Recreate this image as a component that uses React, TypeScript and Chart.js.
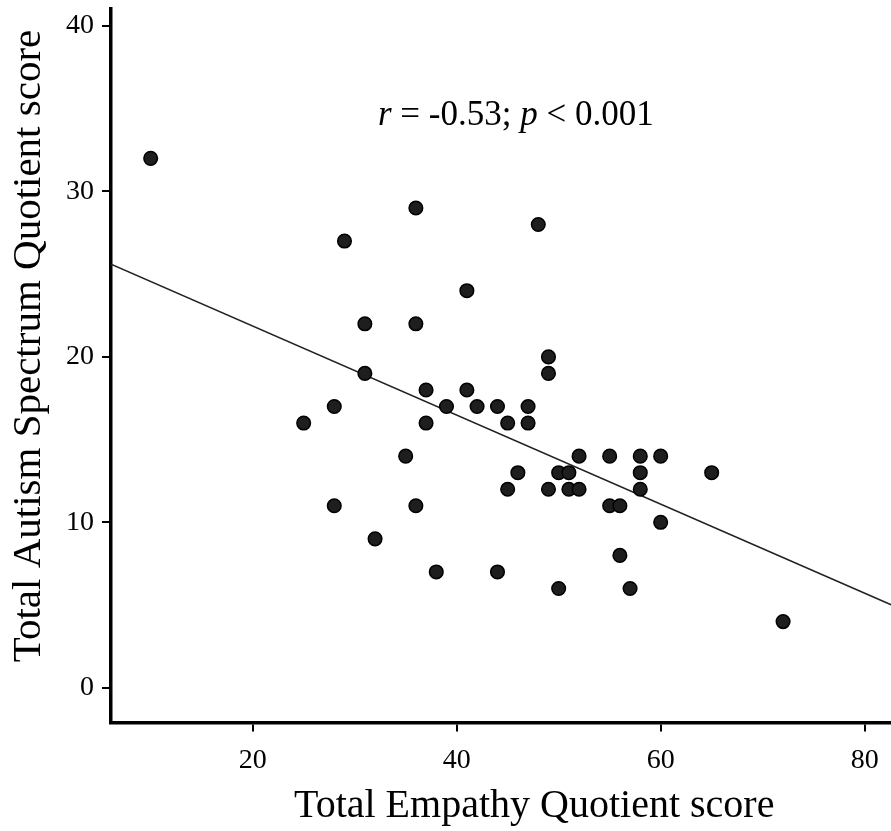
import React, { useEffect, useRef } from "react";
import { Chart, registerables } from "chart.js";

Chart.register(...registerables);

// Empathy Quotient (x) vs Autism Spectrum Quotient (y)
const empathyScores = [
  10, 25, 28, 28, 29, 31, 31, 32, 35, 36, 36, 36, 37, 37, 38, 39,
  41, 41, 42, 44, 44, 45, 45, 46, 47, 47, 48, 49, 49, 49, 50, 50,
  51, 51, 52, 52, 55, 55, 56, 56, 57, 58, 58, 58, 60, 60, 65, 72,
];
const autismScores = [
  32, 16, 17, 11, 27, 22, 19, 9, 14, 29, 22, 11, 18, 16, 7, 17,
  24, 18, 17, 17, 7, 16, 12, 13, 17, 16, 28, 20, 19, 12, 13, 6,
  13, 12, 14, 12, 14, 11, 11, 8, 6, 14, 13, 12, 14, 10, 13, 4,
];

// Fitted regression line, read at the two ends of the x axis
const fitLineX = [6.11, 82.65];
const fitLineY = [25.6, 5.0];

const xTickValues = [20, 40, 60, 80];
const yTickValues = [0, 10, 20, 30, 40];

const xAxisTitle = "Total Empathy Quotient score";
const yAxisTitle = "Total Autism Spectrum Quotient score";
const statR = "-0.53";
const statP = "0.001";

const SERIF = "'Liberation Serif', 'Times New Roman', serif";
const INK = "#000";

const textPlugin = {
  id: "figureTexts",
  afterDraw(chart: any) {
    const ctx = chart.ctx as CanvasRenderingContext2D;
    ctx.save();
    ctx.fillStyle = INK;
    ctx.textBaseline = "alphabetic";

    // x-axis title
    ctx.font = `40px ${SERIF}`;
    ctx.textAlign = "left";
    ctx.fillText(xAxisTitle, 294, 816.5);

    // y-axis title
    ctx.font = `41px ${SERIF}`;
    ctx.save();
    ctx.translate(39.5, 346);
    ctx.rotate(-Math.PI / 2);
    ctx.textAlign = "center";
    ctx.fillText(yAxisTitle, 0, 0);
    ctx.restore();

    // statistics annotation
    const parts: [string, boolean][] = [
      ["r", true],
      [" = " + statR + "; ", false],
      ["p", true],
      [" < " + statP, false],
    ];
    let x = 378;
    const baseY = 125;
    ctx.textAlign = "left";
    for (const [txt, italic] of parts) {
      ctx.font = `${italic ? "italic " : ""}35px ${SERIF}`;
      ctx.fillText(txt, x, baseY);
      x += ctx.measureText(txt).width;
    }
    ctx.restore();
  },
};

export default function App() {
  const canvasRef = useRef<HTMLCanvasElement | null>(null);

  useEffect(() => {
    document.body.style.margin = "0";
    const canvas = canvasRef.current;
    if (!canvas) return;

    const points = empathyScores.map((v, i) => ({ x: v, y: autismScores[i] }));
    const fitLine = fitLineX.map((v, i) => ({ x: v, y: fitLineY[i] }));

    const tickFont = { family: SERIF, size: 28 };

    const chart = new Chart(canvas, {
      type: "scatter",
      data: {
        datasets: [
          {
            label: "Participants",
            data: points,
            backgroundColor: "#1e1e1e",
            borderColor: "#000",
            borderWidth: 1.5,
            pointRadius: 6.8,
            pointHoverRadius: 6.8,
            order: 1,
          },
          {
            type: "line",
            label: "Fit",
            data: fitLine,
            borderColor: "#222",
            borderWidth: 1.5,
            pointRadius: 0,
            fill: false,
            order: 2,
          } as any,
        ],
      },
      options: {
        responsive: false,
        animation: false,
        devicePixelRatio: 1,
        layout: { padding: { top: 8, left: 0, right: 0, bottom: 0 } },
        plugins: {
          legend: { display: false },
          tooltip: { enabled: false },
          title: { display: false },
        },
        scales: {
          x: {
            type: "linear",
            min: 6.11,
            max: 82.65,
            afterBuildTicks: (scale: any) => {
              scale.ticks = xTickValues.map((v) => ({ value: v }));
            },
            afterFit: (scale: any) => {
              scale.height = 108.5;
              scale.paddingLeft = 0;
              scale.paddingRight = 0;
            },
            ticks: {
              font: tickFont,
              color: INK,
              padding: 12,
              maxRotation: 0,
              autoSkip: false,
            },
            grid: {
              display: true,
              drawOnChartArea: false,
              drawTicks: true,
              tickLength: 9,
              color: "#000",
              lineWidth: 2,
            },
            border: { display: true, color: "#000", width: 3.5 },
            title: { display: false },
          },
          y: {
            type: "linear",
            min: -2.1,
            max: 41.07,
            afterBuildTicks: (scale: any) => {
              scale.ticks = yTickValues.map((v) => ({ value: v }));
            },
            afterFit: (scale: any) => {
              scale.width = 111;
              scale.paddingTop = 0;
              scale.paddingBottom = 0;
            },
            ticks: {
              font: tickFont,
              color: INK,
              padding: 8,
              autoSkip: false,
            },
            grid: {
              display: true,
              drawOnChartArea: false,
              drawTicks: true,
              tickLength: 9,
              color: "#000",
              lineWidth: 2,
            },
            border: { display: true, color: "#000", width: 3.5 },
            title: { display: false },
          },
        },
      },
      plugins: [textPlugin],
    });

    return () => {
      chart.destroy();
    };
  }, []);

  return (
    <div style={{ width: 891, height: 831, overflow: "hidden", background: "#fff" }}>
      <canvas ref={canvasRef} width={900} height={831} style={{ display: "block" }} />
    </div>
  );
}
